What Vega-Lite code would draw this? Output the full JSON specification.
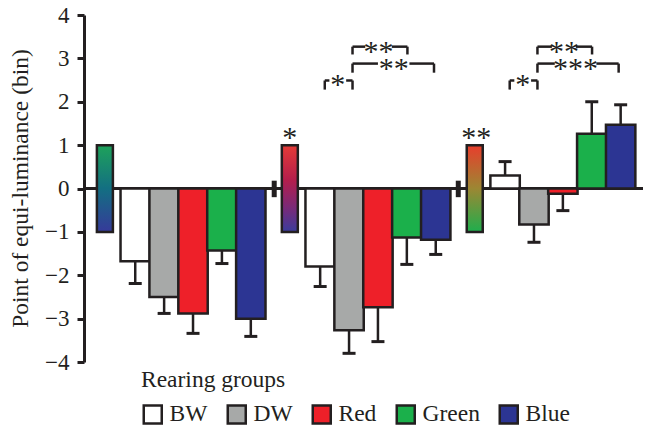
{
  "$schema": "https://vega.github.io/schema/vega-lite/v6.json",
  "width": 559,
  "height": 347,
  "autosize": "none",
  "padding": {"left": 84, "top": 15, "right": 2, "bottom": 65},
  "background": "white",
  "config": {
    "view": {"stroke": null},
    "font": "Liberation Serif",
    "axisY": {
      "grid": false,
      "domainColor": "#231f20",
      "domainWidth": 3,
      "tickColor": "#231f20",
      "tickWidth": 3,
      "tickSize": 7,
      "labelFont": "Liberation Serif",
      "labelFontSize": 23,
      "labelColor": "#231f20",
      "labelPadding": 8,
      "titleFont": "Liberation Serif",
      "titleFontSize": 23.5,
      "titleFontWeight": "normal",
      "titleColor": "#231f20",
      "titleX": -52,
      "titleY": 173
    }
  },
  "datasets": {
    "bars": [
      {"pos": 1.6, "group": "BW", "value": -1.68, "errEnd": -2.19},
      {"pos": 2.6, "group": "DW", "value": -2.5, "errEnd": -2.88},
      {"pos": 3.6, "group": "Red", "value": -2.88, "errEnd": -3.34},
      {"pos": 4.6, "group": "Green", "value": -1.43, "errEnd": -1.73},
      {"pos": 5.6, "group": "Blue", "value": -3.0, "errEnd": -3.41},
      {"pos": 8.0, "group": "BW", "value": -1.8, "errEnd": -2.26},
      {"pos": 9.0, "group": "DW", "value": -3.27, "errEnd": -3.8},
      {"pos": 10.0, "group": "Red", "value": -2.74, "errEnd": -3.53},
      {"pos": 11.0, "group": "Green", "value": -1.13, "errEnd": -1.75},
      {"pos": 12.0, "group": "Blue", "value": -1.18, "errEnd": -1.52},
      {"pos": 14.4, "group": "BW", "value": 0.3, "errEnd": 0.62},
      {"pos": 15.4, "group": "DW", "value": -0.83, "errEnd": -1.24},
      {"pos": 16.4, "group": "Red", "value": -0.12, "errEnd": -0.51},
      {"pos": 17.4, "group": "Green", "value": 1.26, "errEnd": 2.0},
      {"pos": 18.4, "group": "Blue", "value": 1.47, "errEnd": 1.93}
    ],
    "grads": [
      {"id": 1, "pos": 0.55, "top": 1, "bottom": -1},
      {"id": 2, "pos": 6.95, "top": 1, "bottom": -1},
      {"id": 3, "pos": 13.35, "top": 1, "bottom": -1}
    ],
    "breaks": [
      {"pos": 6.41, "top": 0.18, "bottom": -0.2},
      {"pos": 12.78, "top": 0.18, "bottom": -0.2}
    ],
    "segments": [
      {"x": 8.16, "x2": 8.16, "y": 2.28, "y2": 2.49},
      {"x": 8.16, "x2": 8.32, "y": 2.49, "y2": 2.49},
      {"x": 8.9, "x2": 9.12, "y": 2.49, "y2": 2.49},
      {"x": 9.12, "x2": 9.12, "y": 2.28, "y2": 2.49},
      {"x": 9.12, "x2": 9.12, "y": 2.67, "y2": 2.88},
      {"x": 9.12, "x2": 10.0, "y": 2.88, "y2": 2.88},
      {"x": 11.09, "x2": 11.94, "y": 2.88, "y2": 2.88},
      {"x": 11.94, "x2": 11.94, "y": 2.67, "y2": 2.88},
      {"x": 9.12, "x2": 9.12, "y": 3.09, "y2": 3.27},
      {"x": 9.12, "x2": 9.56, "y": 3.27, "y2": 3.27},
      {"x": 10.48, "x2": 11.02, "y": 3.27, "y2": 3.27},
      {"x": 11.02, "x2": 11.02, "y": 3.09, "y2": 3.27},
      {"x": 14.56, "x2": 14.56, "y": 2.28, "y2": 2.49},
      {"x": 14.56, "x2": 14.72, "y": 2.49, "y2": 2.49},
      {"x": 15.3, "x2": 15.52, "y": 2.49, "y2": 2.49},
      {"x": 15.52, "x2": 15.52, "y": 2.28, "y2": 2.49},
      {"x": 15.52, "x2": 15.52, "y": 2.67, "y2": 2.88},
      {"x": 15.52, "x2": 16.12, "y": 2.88, "y2": 2.88},
      {"x": 17.56, "x2": 18.33, "y": 2.88, "y2": 2.88},
      {"x": 18.33, "x2": 18.33, "y": 2.67, "y2": 2.88},
      {"x": 15.52, "x2": 15.52, "y": 3.09, "y2": 3.27},
      {"x": 15.52, "x2": 16.02, "y": 3.27, "y2": 3.27},
      {"x": 16.85, "x2": 17.41, "y": 3.27, "y2": 3.27},
      {"x": 17.41, "x2": 17.41, "y": 3.09, "y2": 3.27}
    ],
    "stars": [
      {"pos": 6.95, "y": 1.29, "label": "*"},
      {"pos": 13.4, "y": 1.29, "label": "**"},
      {"pos": 8.61, "y": 2.49, "label": "*"},
      {"pos": 10.55, "y": 2.88, "label": "**"},
      {"pos": 10.02, "y": 3.27, "label": "**"},
      {"pos": 15.01, "y": 2.49, "label": "*"},
      {"pos": 16.84, "y": 2.88, "label": "***"},
      {"pos": 16.44, "y": 3.27, "label": "**"}
    ]
  },
  "layer": [
    {
      "data": {"values": [{"y": 0}]},
      "mark": {"type": "rule", "strokeWidth": 3, "color": "#231f20"},
      "encoding": {
        "y": {
          "field": "y",
          "type": "quantitative",
          "title": "Point of equi-luminance (bin)",
          "scale": {"domain": [-4, 4], "nice": false, "zero": false},
          "axis": {"values": [-4, -3, -2, -1, 0, 1, 2, 3, 4]}
        }
      }
    },
    {
      "data": {"name": "bars"},
      "mark": {"type": "rule", "strokeWidth": 2.5, "color": "#231f20"},
      "encoding": {
        "x": {"field": "pos", "type": "quantitative", "scale": {"domain": [0, 19], "nice": false, "zero": false}, "axis": null},
        "y": {"field": "value", "type": "quantitative", "title": "Point of equi-luminance (bin)"},
        "y2": {"field": "errEnd"}
      }
    },
    {
      "data": {"name": "bars"},
      "mark": {"type": "tick", "orient": "horizontal", "size": 13, "thickness": 3, "color": "#231f20", "opacity": 1},
      "encoding": {
        "x": {"field": "pos", "type": "quantitative", "axis": null},
        "y": {"field": "errEnd", "type": "quantitative", "title": "Point of equi-luminance (bin)"}
      }
    },
    {
      "data": {"name": "bars"},
      "mark": {"type": "bar", "orient": "vertical", "width": 29.4, "stroke": "#231f20", "strokeWidth": 2.5, "opacity": 1},
      "encoding": {
        "x": {"field": "pos", "type": "quantitative", "axis": null},
        "y": {"field": "value", "type": "quantitative", "title": "Point of equi-luminance (bin)"},
        "y2": {"datum": 0},
        "fill": {
          "field": "group",
          "type": "nominal",
          "scale": {"domain": ["BW", "DW", "Red", "Green", "Blue"], "range": ["#ffffff", "#a7a9a8", "#ee2029", "#1bb04b", "#2c3593"]},
          "legend": {
            "title": "Rearing groups",
            "orient": "none",
            "legendX": 57,
            "legendY": 353,
            "direction": "horizontal",
            "symbolType": "square",
            "symbolSize": 324,
            "symbolStrokeColor": "#231f20",
            "symbolStrokeWidth": 2.5,
            "symbolOpacity": 1,
            "labelFont": "Liberation Serif",
            "labelFontSize": 23.5,
            "labelColor": "#231f20",
            "labelOffset": 5,
            "columnPadding": 14,
            "titleFont": "Liberation Serif",
            "titleFontSize": 23.5,
            "titleFontWeight": "normal",
            "titleColor": "#231f20",
            "titlePadding": 11
          }
        }
      }
    },
    {
      "data": {"name": "grads"},
      "transform": [{"filter": "datum.id == 1"}],
      "mark": {"type": "bar", "orient": "vertical", "width": 16, "stroke": "#231f20", "strokeWidth": 2.5,
        "fill": {"gradient": "linear", "x1": 0, "y1": 0, "x2": 0, "y2": 1, "stops": [
          {"offset": 0, "color": "#1ea25a"}, {"offset": 0.5, "color": "#136f82"}, {"offset": 1, "color": "#363a9a"}]}},
      "encoding": {
        "x": {"field": "pos", "type": "quantitative", "axis": null},
        "y": {"field": "top", "type": "quantitative", "title": "Point of equi-luminance (bin)"},
        "y2": {"field": "bottom"}
      }
    },
    {
      "data": {"name": "grads"},
      "transform": [{"filter": "datum.id == 2"}],
      "mark": {"type": "bar", "orient": "vertical", "width": 16, "stroke": "#231f20", "strokeWidth": 2.5,
        "fill": {"gradient": "linear", "x1": 0, "y1": 0, "x2": 0, "y2": 1, "stops": [
          {"offset": 0, "color": "#e43b37"}, {"offset": 0.4, "color": "#b41e4c"}, {"offset": 0.72, "color": "#7a2a78"}, {"offset": 1, "color": "#3b3c9c"}]}},
      "encoding": {
        "x": {"field": "pos", "type": "quantitative", "axis": null},
        "y": {"field": "top", "type": "quantitative", "title": "Point of equi-luminance (bin)"},
        "y2": {"field": "bottom"}
      }
    },
    {
      "data": {"name": "grads"},
      "transform": [{"filter": "datum.id == 3"}],
      "mark": {"type": "bar", "orient": "vertical", "width": 16, "stroke": "#231f20", "strokeWidth": 2.5,
        "fill": {"gradient": "linear", "x1": 0, "y1": 0, "x2": 0, "y2": 1, "stops": [
          {"offset": 0, "color": "#e83d2c"}, {"offset": 0.5, "color": "#9c8733"}, {"offset": 1, "color": "#1fae4d"}]}},
      "encoding": {
        "x": {"field": "pos", "type": "quantitative", "axis": null},
        "y": {"field": "top", "type": "quantitative", "title": "Point of equi-luminance (bin)"},
        "y2": {"field": "bottom"}
      }
    },
    {
      "data": {"name": "breaks"},
      "mark": {"type": "rule", "strokeWidth": 5, "color": "#231f20"},
      "encoding": {
        "x": {"field": "pos", "type": "quantitative", "axis": null},
        "y": {"field": "top", "type": "quantitative", "title": "Point of equi-luminance (bin)"},
        "y2": {"field": "bottom"}
      }
    },
    {
      "data": {"name": "segments"},
      "mark": {"type": "rule", "strokeWidth": 2.5, "color": "#231f20"},
      "encoding": {
        "x": {"field": "x", "type": "quantitative", "axis": null},
        "x2": {"field": "x2"},
        "y": {"field": "y", "type": "quantitative", "title": "Point of equi-luminance (bin)"},
        "y2": {"field": "y2"}
      }
    },
    {
      "data": {"name": "stars"},
      "mark": {"type": "text", "font": "Liberation Serif", "fontSize": 30, "color": "#231f20", "baseline": "alphabetic", "align": "center", "dy": 14},
      "encoding": {
        "x": {"field": "pos", "type": "quantitative", "axis": null},
        "y": {"field": "y", "type": "quantitative", "title": "Point of equi-luminance (bin)"},
        "text": {"field": "label"}
      }
    }
  ]
}
